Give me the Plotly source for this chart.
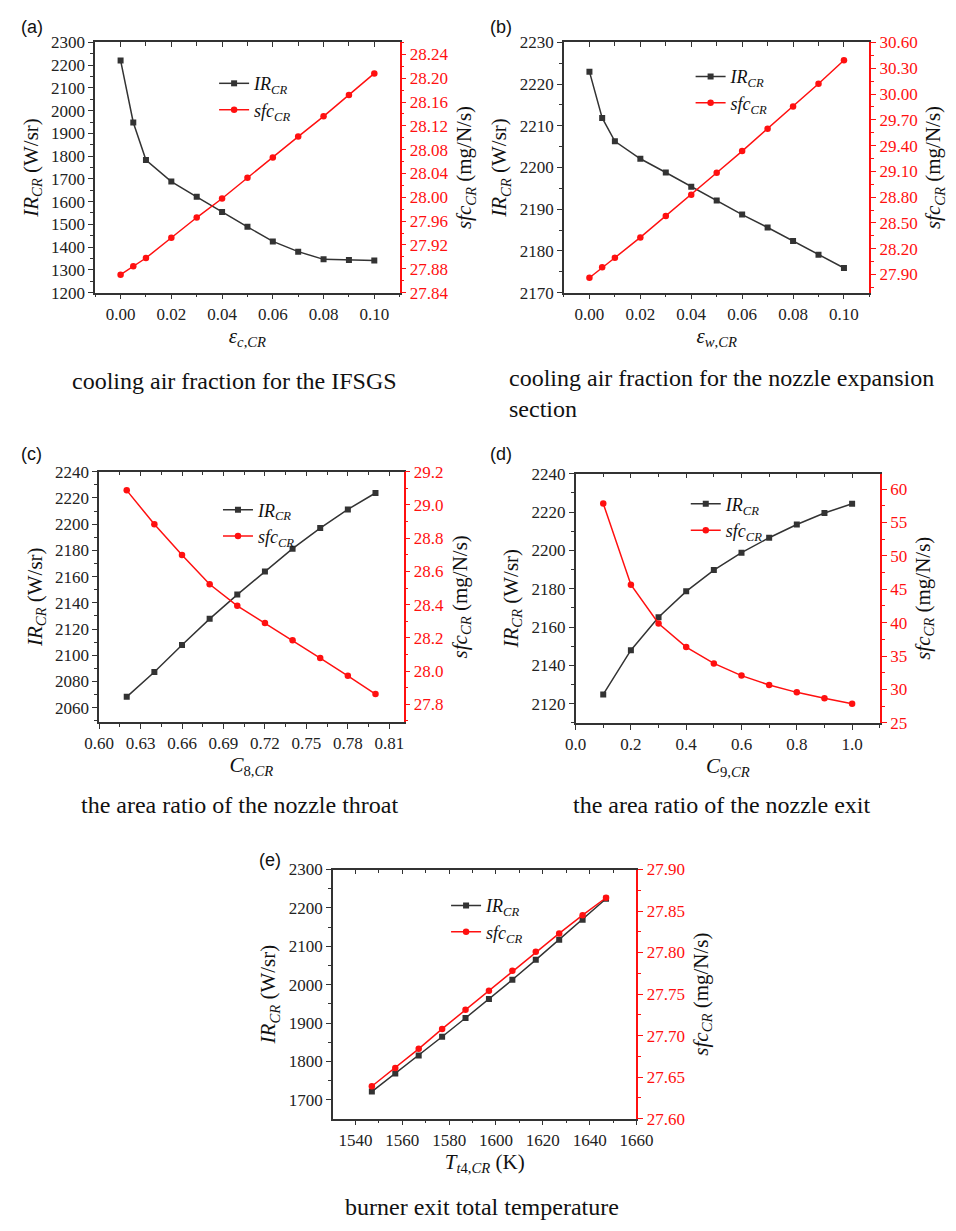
import plotly.graph_objects as go

W, H = 956, 1231

# ---------------- data ----------------
x_a = [0.0, 0.005, 0.01, 0.02, 0.03, 0.04, 0.05, 0.06, 0.07, 0.08, 0.09, 0.10]
ir_a = [2221, 1948, 1783, 1688, 1621, 1554, 1489, 1425, 1380, 1346, 1343, 1341]
sfc_a = [27.870, 27.884, 27.898, 27.932, 27.966, 27.998, 28.033, 28.067, 28.102, 28.136, 28.172, 28.208]

x_b = [0.0, 0.005, 0.01, 0.02, 0.03, 0.04, 0.05, 0.06, 0.07, 0.08, 0.09, 0.10]
ir_b = [2223.0, 2211.9, 2206.3, 2202.1, 2198.8, 2195.4, 2192.1, 2188.7, 2185.6, 2182.4, 2179.1, 2175.9]
sfc_b = [27.862, 27.984, 28.095, 28.332, 28.580, 28.828, 29.084, 29.336, 29.596, 29.855, 30.119, 30.394]

x_c = [0.62, 0.64, 0.66, 0.68, 0.70, 0.72, 0.74, 0.76, 0.78, 0.80]
ir_c = [2068.3, 2087.3, 2107.8, 2127.8, 2146.3, 2164.0, 2181.3, 2197.0, 2211.3, 2223.8]
sfc_c = [29.088, 28.884, 28.699, 28.523, 28.393, 28.290, 28.186, 28.079, 27.972, 27.862]

x_d = [0.1, 0.2, 0.3, 0.4, 0.5, 0.6, 0.7, 0.8, 0.9, 1.0]
ir_d = [2124.8, 2147.9, 2165.1, 2178.6, 2189.7, 2198.8, 2206.6, 2213.5, 2219.5, 2224.3]
sfc_d = [57.84, 45.67, 39.87, 36.34, 33.89, 32.07, 30.65, 29.56, 28.68, 27.85]

x_e = [1547, 1557, 1567, 1577, 1587, 1597, 1607, 1617, 1627, 1637, 1647]
ir_e = [1721.4, 1768.5, 1815.6, 1864.3, 1913.1, 1962.3, 2012.8, 2064.6, 2117.0, 2169.0, 2223.8]
sfc_e = [27.639, 27.661, 27.684, 27.708, 27.731, 27.754, 27.778, 27.801, 27.823, 27.845, 27.866]

panel_labels = ["(a)", "(b)", "(c)", "(d)", "(e)"]
x_titles = ["<i>ε</i><sub><i>c</i>,<i>CR</i></sub>",
            "<i>ε</i><sub><i>w</i>,<i>CR</i></sub>",
            "<i>C</i><sub>8,<i>CR</i></sub>",
            "<i>C</i><sub>9,<i>CR</i></sub>",
            "<i>T</i><sub><i>t</i>4,<i>CR</i></sub> (K)"]
captions = ["cooling air fraction for the IFSGS",
            "cooling air fraction for the nozzle expansion<br>section",
            "the area ratio of the nozzle throat",
            "the area ratio of the nozzle exit",
            "burner exit total temperature"]
y_left_title = "<i>IR</i><sub><i>CR</i></sub> (W/sr)"
y_right_title = "<i>sfc</i><sub><i>CR</i></sub> (mg/N/s)"
name_ir = "<i>IR</i><sub><i>CR</i></sub>"
name_sfc = "<i>sfc</i><sub><i>CR</i></sub>"

# ---------------- layout config (pixels) ----------------
panels = [
    dict(x=x_a, ir=ir_a, sfc=sfc_a, rect=(83, 34, 398, 288),
         xr=[-0.01, 0.11], xd=0.02, x0=0, xf=".2f",
         yl=[1200, 2300], yld=100, yr=[27.84, 28.26], yrd=0.04, yr0=27.84, yrf=".2f",
         leg=(206, 57), lab=(4, 6), cap=(227, 378, "center")),
    dict(x=x_b, ir=ir_b, sfc=sfc_b, rect=(568, 34, 884, 288),
         xr=[-0.01, 0.11], xd=0.02, x0=0, xf=".2f",
         yl=[2170, 2230], yld=10, yr=[27.69, 30.6], yrd=0.3, yr0=27.9, yrf=".2f",
         leg=(699, 50), lab=(489, 6), cap=(509, 391, "left")),
    dict(x=x_c, ir=ir_c, sfc=sfc_c, rect=(87, 470, 402, 724),
         xr=[0.60, 0.8203], xd=0.03, x0=0.60, xf=".2f",
         yl=[2049.25, 2240], yld=20, yr=[27.695, 29.2], yrd=0.2, yr0=27.8, yrf=".1f",
         leg=(210, 490), lab=(4, 440), cap=(233, 808, "center")),
    dict(x=x_d, ir=ir_d, sfc=sfc_d, rect=(580, 472, 895, 725),
         xr=[0.0, 1.101], xd=0.2, x0=0, xf=".1f",
         yl=[2110, 2240], yld=20, yr=[25, 62.3], yrd=5, yr0=25, yrf="d",
         leg=(694, 484), lab=(489, 440), cap=(731, 808, "center")),
    dict(x=x_e, ir=ir_e, sfc=sfc_e, rect=(329, 874, 643, 1127),
         xr=[1530.4, 1660], xd=20, x0=1540, xf="d",
         yl=[1651, 2300], yld=100, yr=[27.60, 27.90], yrd=0.05, yr0=27.6, yrf=".2f",
         leg=(446, 892), lab=(250, 852), cap=(483, 1217, "center")),
]

SERIF = "Liberation Serif"
SANS = "Liberation Sans"
BLACK = "#333333"
RED = "#ff1010"
TICKF = dict(family=SERIF, size=17, color="#222222")
TICKF_R = dict(family=SERIF, size=17, color=RED)
TITLEF = dict(family=SERIF, size=21, color="#111111")

fig = go.Figure()
layout = dict(width=W, height=H, margin=dict(l=0, r=0, t=0, b=0),
              plot_bgcolor="white", paper_bgcolor="white", showlegend=True)
annotations = []


def px(xp):
    return xp / W


def py(yp):
    return 1 - yp / H


def nm(prefix, n):
    return prefix if n == 1 else f"{prefix}{n}"


for i, p in enumerate(panels):
    xb = 2 * i + 1      # bottom x axis
    xt = 2 * i + 2      # top x axis (inward ticks only)
    yl = 2 * i + 1      # left y axis
    yr = 2 * i + 2      # right y axis
    legname = nm("legend", i + 1)

    x0p, y0p, x1p, y1p = p["rect"]
    dom_x = [px(x0p), px(x1p)]
    dom_y = [py(y1p), py(y0p)]

    fig.add_trace(go.Scatter(
        x=p["x"], y=p["ir"], name=name_ir, mode="lines+markers",
        line=dict(color=BLACK, width=1.5),
        marker=dict(symbol="square", size=6, color=BLACK),
        xaxis=nm("x", xb), yaxis=nm("y", yl), legend=legname))
    fig.add_trace(go.Scatter(
        x=p["x"], y=p["sfc"], name=name_sfc, mode="lines+markers",
        line=dict(color=RED, width=1.5),
        marker=dict(symbol="circle", size=6.5, color=RED),
        xaxis=nm("x", xb), yaxis=nm("y", yr), legend=legname))
    # empty trace to register the top x axis subplot
    fig.add_trace(go.Scatter(x=[], y=[], xaxis=nm("x", xt), yaxis=nm("y", yl),
                             showlegend=False, hoverinfo="skip"))

    layout[nm("xaxis", xb)] = dict(
        domain=dom_x, anchor=nm("y", yl), range=p["xr"], side="bottom",
        tick0=p["x0"], dtick=p["xd"], tickformat=p["xf"],
        showline=True, linecolor=BLACK, linewidth=1.5, mirror=False,
        ticks="outside", ticklen=5, tickwidth=1.2, tickcolor=BLACK,
        minor=dict(ticks="outside", ticklen=3, tickwidth=1, tickcolor=BLACK,
                   tick0=p["x0"], dtick=p["xd"] / 2),
        showgrid=False, zeroline=False, tickfont=TICKF,
        title=dict(text=x_titles[i], font=TITLEF, standoff=5))
    layout[nm("xaxis", xt)] = dict(
        domain=dom_x, anchor=nm("y", yl), overlaying=nm("x", xb), range=p["xr"], side="top",
        tick0=p["x0"], dtick=p["xd"], showticklabels=False,
        showline=True, linecolor=BLACK, linewidth=1.5,
        ticks="inside", ticklen=5, tickwidth=1.2, tickcolor=BLACK,
        minor=dict(ticks="inside", ticklen=4, tickwidth=1, tickcolor=BLACK,
                   tick0=p["x0"], dtick=p["xd"] / 2),
        showgrid=False, zeroline=False)
    layout[nm("yaxis", yl)] = dict(
        domain=dom_y, anchor=nm("x", xb), range=p["yl"], side="left",
        tick0=0, dtick=p["yld"], tickformat="d",
        showline=True, linecolor=BLACK, linewidth=1.5,
        ticks="outside", ticklen=5, tickwidth=1.2, tickcolor=BLACK,
        minor=dict(ticks="outside", ticklen=3, tickwidth=1, tickcolor=BLACK,
                   tick0=0, dtick=p["yld"] / 2),
        showgrid=False, zeroline=False, tickfont=TICKF,
        title=dict(text=y_left_title, font=TITLEF, standoff=7))
    layout[nm("yaxis", yr)] = dict(
        domain=dom_y, anchor=nm("x", xb), overlaying=nm("y", yl), range=p["yr"], side="right",
        tick0=p["yr0"], dtick=p["yrd"], tickformat=p["yrf"],
        showline=True, linecolor=RED, linewidth=1.5,
        ticks="outside", ticklen=5, tickwidth=1.2, tickcolor=RED,
        minor=dict(ticks="outside", ticklen=3, tickwidth=1, tickcolor=RED,
                   tick0=p["yr0"], dtick=p["yrd"] / 2),
        showgrid=False, zeroline=False, tickfont=TICKF_R,
        title=dict(text=y_right_title, font=TITLEF, standoff=9))

    lx, ly = p["leg"]
    layout[legname] = dict(
        x=px(lx), y=py(ly), xanchor="left", yanchor="top",
        bgcolor="rgba(0,0,0,0)", borderwidth=0,
        font=dict(family=SERIF, size=18, color="#111111"),
        tracegroupgap=0, itemwidth=30)

    bx, by = p["lab"]
    annotations.append(dict(
        text=panel_labels[i], x=px(bx), y=py(by), xref="paper", yref="paper",
        xanchor="left", yanchor="top", showarrow=False,
        font=dict(family=SANS, size=18, color="#111111")))
    cx, cy, al = p["cap"]
    annotations.append(dict(
        text=captions[i], x=px(cx), y=py(cy), xref="paper", yref="paper",
        xanchor="center" if al == "center" else "left", yanchor="middle",
        align=al, showarrow=False,
        font=dict(family=SERIF, size=24, color="#111111")))

layout["annotations"] = annotations
fig.update_layout(**layout)
fig.write_html("out.html")
